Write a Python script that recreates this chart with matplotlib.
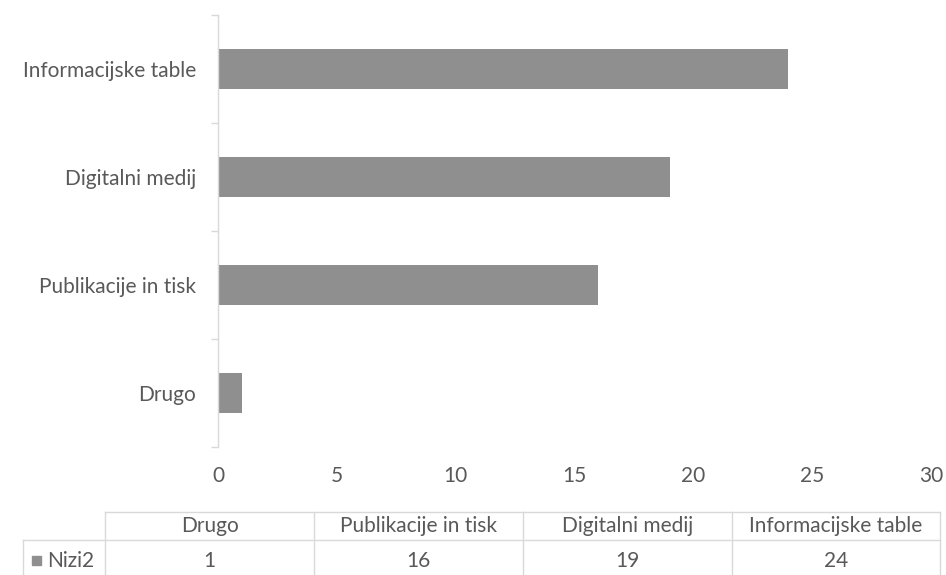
import matplotlib
matplotlib.use("Agg")
import matplotlib.pyplot as plt
from matplotlib.lines import Line2D
from matplotlib.patches import Rectangle

categories = ["Drugo", "Publikacije in tisk", "Digitalni medij", "Informacijske table"]
values = [1, 16, 19, 24]
series_name = "Nizi2"
x_ticks = [0, 5, 10, 15, 20, 25, 30]

plt.rcParams['font.family'] = ['Lato', 'DejaVu Sans']

W, H = 946, 575
TXT = "#595959"
BAR = "#8f8f8f"
GRID = "#d9d9d9"
FS = 15

fig = plt.figure(figsize=(W / 100, H / 100), dpi=100)

def fx(x):
    return x / W

def fy(y):
    return 1 - y / H

ax = fig.add_axes([fx(218), fy(447), fx(931) - fx(218), fy(15) - fy(447)])
ypos = list(range(len(categories)))
ax.barh(ypos, values, height=0.37, color=BAR, zorder=2)
ax.set_xlim(0, 30)
ax.set_ylim(-0.5, len(categories) - 0.5)
ax.set_yticks(ypos)
ax.set_yticklabels(categories, fontsize=FS, color=TXT)
ax.set_yticks([i - 0.5 for i in range(len(categories) + 1)], minor=True)
ax.tick_params(axis='y', which='major', length=0, pad=16)
ax.tick_params(axis='y', which='minor', length=5, color=GRID, width=1)
ax.set_xticks(x_ticks)
ax.set_xticklabels([str(t) for t in x_ticks], fontsize=FS, color=TXT)
ax.tick_params(axis='x', length=0, pad=14)
for s in ['top', 'right', 'bottom']:
    ax.spines[s].set_visible(False)
ax.spines['left'].set_color(GRID)
ax.spines['left'].set_linewidth(1)

# data table below the chart
col_edges = [105, 314, 523, 732, 940]
top_y, mid_y, bot_y = 512, 540, 580
lw = 1.0

def hline(x0, x1, y):
    fig.add_artist(Line2D([fx(x0), fx(x1)], [fy(y), fy(y)], color=GRID, lw=lw, transform=fig.transFigure))

def vline(x, y0, y1):
    fig.add_artist(Line2D([fx(x), fx(x)], [fy(y0), fy(y1)], color=GRID, lw=lw, transform=fig.transFigure))

hline(col_edges[0], col_edges[-1], top_y)
hline(23, col_edges[-1], mid_y)
for x in col_edges:
    vline(x, top_y, bot_y)
vline(23, mid_y, bot_y)

for i, (cat, val) in enumerate(zip(categories, values)):
    cx = (col_edges[i] + col_edges[i + 1]) / 2
    fig.text(fx(cx), fy(526), cat, ha='center', va='center', fontsize=FS, color=TXT)
    fig.text(fx(cx), fy(561), str(val), ha='center', va='center', fontsize=FS, color=TXT)

fig.add_artist(Rectangle((fx(32), fy(565)), fx(9), 9 / H, color=BAR, transform=fig.transFigure))
fig.text(fx(47), fy(561), series_name, ha='left', va='center', fontsize=FS, color=TXT)

fig.savefig("out.png", dpi=100)
